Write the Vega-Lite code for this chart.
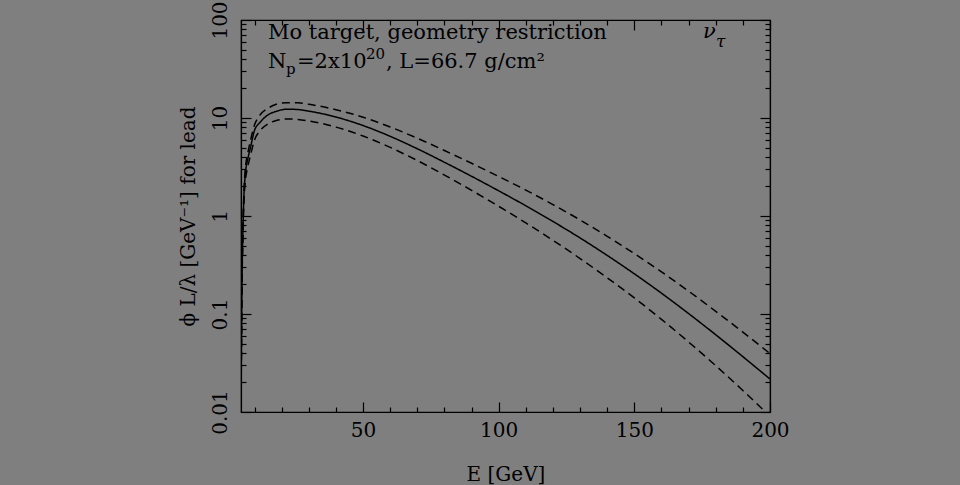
{
  "$schema": "https://vega.github.io/schema/vega-lite/v6.json",
  "autosize": "none",
  "width": 529,
  "height": 392,
  "padding": {"left": 241, "top": 20, "right": 190, "bottom": 73},
  "background": "#7f7f7f",
  "config": {
    "view": {"stroke": "black", "strokeWidth": 1.2},
    "axis": {
      "domainColor": "black", "tickColor": "black", "labelColor": "black", "titleColor": "black",
      "labelFont": "DejaVu Serif", "titleFont": "DejaVu Serif", "labelFontSize": 20, "titleFontSize": 20,
      "titleFontWeight": "normal", "grid": false, "tickWidth": 1.2, "domainWidth": 1.2
    }
  },
  "datasets": {
    "curves": [
      {"E":5,"v":0.01,"s":"central"},{"E":5.25,"v":0.1,"s":"central"},{"E":5.85,"v":1,"s":"central"},{"E":6.5,"v":2.512,"s":"central"},{"E":7.5,"v":3.802,"s":"central"},{"E":8.5,"v":5.012,"s":"central"},{"E":10,"v":7.499,"s":"central"},{"E":12,"v":9.016,"s":"central"},{"E":15,"v":10.79,"s":"central"},{"E":18,"v":11.69,"s":"central"},{"E":22,"v":12.3,"s":"central"},{"E":26,"v":12.19,"s":"central"},{"E":30,"v":11.75,"s":"central"},{"E":40,"v":10.23,"s":"central"},{"E":50,"v":8.375,"s":"central"},{"E":60,"v":6.501,"s":"central"},{"E":70,"v":4.853,"s":"central"},{"E":80,"v":3.532,"s":"central"},{"E":90,"v":2.541,"s":"central"},{"E":100,"v":1.807,"s":"central"},{"E":110,"v":1.271,"s":"central"},{"E":120,"v":0.879,"s":"central"},{"E":130,"v":0.597,"s":"central"},{"E":140,"v":0.396,"s":"central"},{"E":150,"v":0.257,"s":"central"},{"E":160,"v":0.163,"s":"central"},{"E":170,"v":0.101,"s":"central"},{"E":180,"v":0.0614,"s":"central"},{"E":190,"v":0.0367,"s":"central"},{"E":200,"v":0.0217,"s":"central"},
      {"E":5,"v":0.01,"s":"upper"},{"E":5.25,"v":0.11,"s":"upper"},{"E":5.85,"v":1.072,"s":"upper"},{"E":6.5,"v":2.818,"s":"upper"},{"E":7.5,"v":4.365,"s":"upper"},{"E":8.5,"v":5.888,"s":"upper"},{"E":10,"v":8.511,"s":"upper"},{"E":12,"v":10.72,"s":"upper"},{"E":15,"v":12.59,"s":"upper"},{"E":18,"v":13.8,"s":"upper"},{"E":22,"v":14.32,"s":"upper"},{"E":26,"v":14.29,"s":"upper"},{"E":30,"v":13.8,"s":"upper"},{"E":40,"v":12.16,"s":"upper"},{"E":50,"v":10.19,"s":"upper"},{"E":60,"v":8.091,"s":"upper"},{"E":70,"v":6.223,"s":"upper"},{"E":80,"v":4.656,"s":"upper"},{"E":90,"v":3.451,"s":"upper"},{"E":100,"v":2.529,"s":"upper"},{"E":110,"v":1.837,"s":"upper"},{"E":120,"v":1.306,"s":"upper"},{"E":130,"v":0.912,"s":"upper"},{"E":140,"v":0.621,"s":"upper"},{"E":150,"v":0.413,"s":"upper"},{"E":160,"v":0.269,"s":"upper"},{"E":170,"v":0.171,"s":"upper"},{"E":180,"v":0.1064,"s":"upper"},{"E":190,"v":0.0653,"s":"upper"},{"E":200,"v":0.0395,"s":"upper"},
      {"E":5,"v":0.01,"s":"lower"},{"E":5.25,"v":0.089,"s":"lower"},{"E":5.85,"v":0.891,"s":"lower"},{"E":6.5,"v":2.138,"s":"lower"},{"E":7.5,"v":3.162,"s":"lower"},{"E":8.5,"v":4.169,"s":"lower"},{"E":10,"v":5.97,"s":"lower"},{"E":12,"v":7.413,"s":"lower"},{"E":15,"v":8.71,"s":"lower"},{"E":18,"v":9.441,"s":"lower"},{"E":22,"v":9.772,"s":"lower"},{"E":26,"v":9.661,"s":"lower"},{"E":30,"v":9.333,"s":"lower"},{"E":40,"v":8.072,"s":"lower"},{"E":50,"v":6.546,"s":"lower"},{"E":60,"v":5.012,"s":"lower"},{"E":70,"v":3.681,"s":"lower"},{"E":80,"v":2.618,"s":"lower"},{"E":90,"v":1.828,"s":"lower"},{"E":100,"v":1.256,"s":"lower"},{"E":110,"v":0.849,"s":"lower"},{"E":120,"v":0.565,"s":"lower"},{"E":130,"v":0.368,"s":"lower"},{"E":140,"v":0.234,"s":"lower"},{"E":150,"v":0.146,"s":"lower"},{"E":160,"v":0.0881,"s":"lower"},{"E":170,"v":0.0518,"s":"lower"},{"E":180,"v":0.0297,"s":"lower"},{"E":190,"v":0.0166,"s":"lower"},{"E":200,"v":0.00904,"s":"lower"}
    ],
    "notes": [
      {"E":14.95,"v":64.0,"t":"Mo target, geometry restriction","k":"big"},
      {"E":14.95,"v":32.4,"t":"N","k":"big"},
      {"E":25.64,"v":32.4,"t":"=2x10","k":"big"},
      {"E":58.45,"v":32.4,"t":", L=66.7 g/cm²","k":"big"},
      {"E":21.59,"v":28.1,"t":"p","k":"small"},
      {"E":51.08,"v":40.0,"t":"20","k":"small"},
      {"E":175.3,"v":65.5,"t":"ν","k":"nu"},
      {"E":180.1,"v":53.0,"t":"τ","k":"tau"}
    ]
  },
  "layer": [
    {
      "data": {"name": "curves"},
      "mark": {"type": "line", "clip": true, "interpolate": "monotone", "color": "black", "strokeWidth": 1.5},
      "encoding": {
        "x": {"field": "E", "type": "quantitative", "scale": {"domain": [5, 200], "nice": false, "zero": false},
          "axis": {"orient": "bottom", "title": "E [GeV]", "values": [10,20,30,40,50,60,70,80,90,100,110,120,130,140,150,160,170,180,190,200],
            "labelExpr": "datum.value % 50 === 0 ? datum.label : ''", "labelFlush": false, "labelOverlap": false,
            "tickSize": {"condition": {"test": "datum.value % 50 === 0", "value": -10}, "value": -5},
            "labelPadding": 18, "titlePadding": 19}},
        "y": {"field": "v", "type": "quantitative", "scale": {"type": "log", "domain": [0.01, 100], "nice": false},
          "axis": {"orient": "left", "title": "ϕ L/λ [GeV⁻¹] for lead", "format": "~g",
            "values": [0.01,0.02,0.03,0.04,0.05,0.06,0.07,0.08,0.09,0.1,0.2,0.3,0.4,0.5,0.6,0.7,0.8,0.9,1,2,3,4,5,6,7,8,9,10,20,30,40,50,60,70,80,90,100],
            "labelExpr": "abs(log(datum.value)/LN10 - round(log(datum.value)/LN10)) < 1e-6 ? datum.label : ''",
            "labelAngle": 270, "labelAlign": "center", "labelBaseline": "bottom", "labelOverlap": false, "labelFlush": false,
            "tickSize": {"condition": {"test": "abs(log(datum.value)/LN10 - round(log(datum.value)/LN10)) < 1e-6", "value": -10}, "value": -5},
            "labelPadding": 21, "titlePadding": 7}},
        "strokeDash": {"field": "s", "type": "nominal", "scale": {"domain": ["central", "upper", "lower"], "range": [[1, 0], [8, 5], [8, 5]]}, "legend": null}
      }
    },
    {
      "data": {"name": "notes"},
      "transform": [{"filter": "datum.k === 'big'"}],
      "mark": {"type": "text", "font": "DejaVu Serif", "fontSize": 21, "align": "left", "baseline": "alphabetic", "color": "black"},
      "encoding": {
        "x": {"field": "E", "type": "quantitative",
          "axis": {"orient": "top", "title": null, "labels": false, "values": [10,20,30,40,50,60,70,80,90,100,110,120,130,140,150,160,170,180,190,200],
            "tickSize": {"condition": {"test": "datum.value % 50 === 0", "value": -10}, "value": -5}}},
        "y": {"field": "v", "type": "quantitative",
          "axis": {"orient": "right", "title": null, "labels": false,
            "values": [0.01,0.02,0.03,0.04,0.05,0.06,0.07,0.08,0.09,0.1,0.2,0.3,0.4,0.5,0.6,0.7,0.8,0.9,1,2,3,4,5,6,7,8,9,10,20,30,40,50,60,70,80,90,100],
            "tickSize": {"condition": {"test": "abs(log(datum.value)/LN10 - round(log(datum.value)/LN10)) < 1e-6", "value": -10}, "value": -5}}},
        "text": {"field": "t", "type": "nominal"}
      }
    },
    {
      "data": {"name": "notes"},
      "transform": [{"filter": "datum.k === 'small'"}],
      "mark": {"type": "text", "font": "DejaVu Serif", "fontSize": 15, "align": "left", "baseline": "alphabetic", "color": "black"},
      "encoding": {
        "x": {"field": "E", "type": "quantitative", "axis": null},
        "y": {"field": "v", "type": "quantitative", "axis": null},
        "text": {"field": "t", "type": "nominal"}
      }
    },
    {
      "data": {"name": "notes"},
      "transform": [{"filter": "datum.k === 'nu'"}],
      "mark": {"type": "text", "font": "DejaVu Serif", "fontStyle": "italic", "fontSize": 21, "align": "left", "baseline": "alphabetic", "color": "black"},
      "encoding": {
        "x": {"field": "E", "type": "quantitative", "axis": null},
        "y": {"field": "v", "type": "quantitative", "axis": null},
        "text": {"field": "t", "type": "nominal"}
      }
    },
    {
      "data": {"name": "notes"},
      "transform": [{"filter": "datum.k === 'tau'"}],
      "mark": {"type": "text", "font": "DejaVu Serif", "fontStyle": "italic", "fontSize": 17, "align": "left", "baseline": "alphabetic", "color": "black"},
      "encoding": {
        "x": {"field": "E", "type": "quantitative", "axis": null},
        "y": {"field": "v", "type": "quantitative", "axis": null},
        "text": {"field": "t", "type": "nominal"}
      }
    }
  ],
  "resolve": {"axis": {"x": "independent", "y": "independent"}}
}
